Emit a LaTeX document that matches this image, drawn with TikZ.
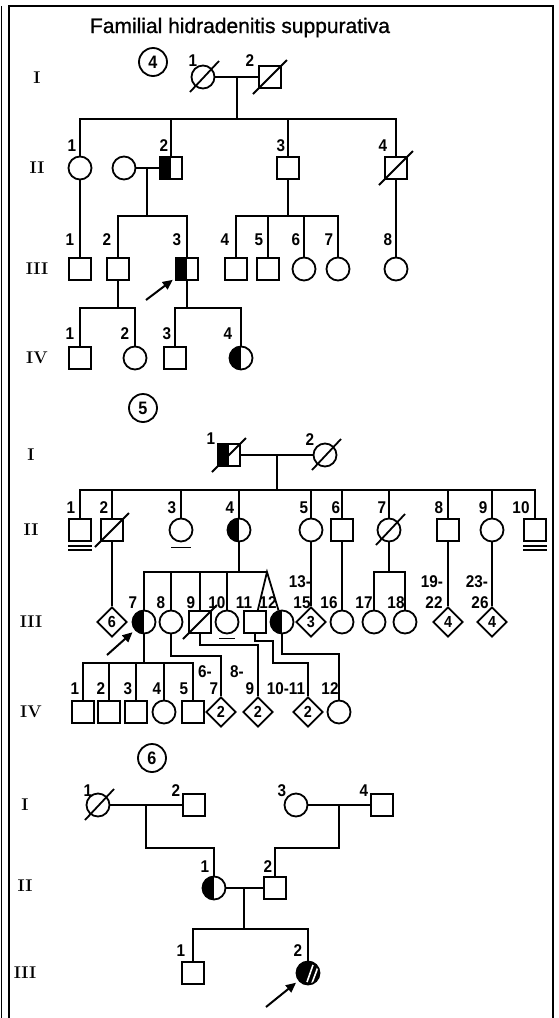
\documentclass[tikz,border=0pt]{standalone}
\usepackage{fontspec}
\setsansfont{Liberation Sans}
\newfontfamily\dinfont[FakeStretch=0.9]{Liberation Sans}
\newfontfamily\titlefont[FakeBold=1]{Liberation Sans}
\usetikzlibrary{shapes.geometric,arrows.meta}

\begin{document}
\begin{tikzpicture}[x=1pt,y=-1pt,line width=1.8pt,
    male/.style={rectangle,draw,minimum size=22pt,inner sep=0pt},
    female/.style={circle,draw,minimum size=23pt,inner sep=0pt},
    unk/.style={diamond,draw,minimum width=30pt,minimum height=30pt,inner sep=0pt,
        font=\dinfont\bfseries\fontsize{16}{16}\selectfont},
    half/.style={path picture={\fill (path picture bounding box.south west) rectangle (path picture bounding box.north);}},
    striped/.style={fill=black,path picture={
        \draw[white,line width=1.6pt] ([shift={(-1,9)}]path picture bounding box.center) -- ([shift={(5,-8)}]path picture bounding box.center);
        \draw[white,line width=1.6pt] ([shift={(4,10)}]path picture bounding box.center) -- ([shift={(10,-6)}]path picture bounding box.center);}},
    num/.style={inner sep=0pt,font=\dinfont\bfseries\fontsize{17}{17}\selectfont},
    gen/.style={inner sep=0pt,font=\rmfamily\bfseries\fontsize{17}{17}\selectfont},
    famno/.style={circle,draw,minimum size=28pt,inner sep=0pt,font=\dinfont\bfseries\fontsize{18}{18}\selectfont},
    pointer/.style={-{Triangle[length=10pt,width=9pt]},line width=2pt,shorten >=3pt}]
\useasboundingbox (0,0) rectangle (558,1018);

% frame
\draw[line width=1.8pt] (9,1018) -- (9,6) -- (553,6) -- (553,1018);
\draw[line width=1.8pt] (1.5,6) -- (1.5,1018);

\node[font=\titlefont\fontsize{21}{21}\selectfont,anchor=base] (title) at (240,33) {Familial hidradenitis suppurativa};

% pedigree 4
\node[famno] (fa) at (153,62) {4};
\foreach \r/\y in {I/78,II/168,III/269,IV/358}
    \node[gen] (ga\r) at (37,\y) {\r};
\node[female] (a11) at (203,77) {};
\node[male] (a12) at (270,77) {};
\node[female] (a21) at (80,168) {};
\node[female] (a2s) at (124,168) {};
\node[male,half] (a22) at (171,168) {};
\node[male] (a23) at (288,168) {};
\node[male] (a24) at (396,168) {};
\node[male] (a31) at (80,269) {};
\node[male] (a32) at (118,269) {};
\node[male,half] (a33) at (187,269) {};
\node[male] (a34) at (236,269) {};
\node[male] (a35) at (268,269) {};
\node[female] (a36) at (304,269) {};
\node[female] (a37) at (338,269) {};
\node[female] (a38) at (396,269) {};
\node[male] (a41) at (80,358) {};
\node[female] (a42) at (135,358) {};
\node[male] (a43) at (175,358) {};
\node[female,half] (a44) at (241,358) {};
\coordinate (a1m) at (237,77);
\coordinate (a1s) at (237,119);
\coordinate (a2m) at (147,168);
\coordinate (a2d) at (147,216);
\coordinate (a3d) at (288,216);
\coordinate (a4d) at (118,308);
\coordinate (a4e) at (187,308);
\draw (a11) -- (a12);
\draw (a1m) -- (a1s);
\draw (a21) |- (a1s) -| (a24);
\draw (a22) -- (a22 |- a1s);
\draw (a23) -- (a23 |- a1s);
\draw (a2s) -- (a22);
\draw (a2m) -- (a2d);
\draw (a32) |- (a2d) -| (a33);
\draw (a21) -- (a31);
\draw (a23) -- (a3d);
\draw (a34) |- (a3d) -| (a37);
\draw (a35) -- (a35 |- a3d);
\draw (a36) -- (a36 |- a3d);
\draw (a24) -- (a38);
\draw (a32) -- (a4d);
\draw (a41) |- (a4d) -| (a42);
\draw (a33) -- (a4e);
\draw (a43) |- (a4e) -| (a44);
\coordinate (pa) at (146,300);
\draw[pointer] (pa) -- (a33);
\foreach \t/\x in {1/193,2/250}
    \node[num] (la1\t) at (\x,61) {\t};
\foreach \t/\x in {1/72,2/164,3/281,4/383}
    \node[num] (la2\t) at (\x,146) {\t};
\foreach \t/\x in {1/70,2/107,3/177,4/225,5/259,6/296,7/329,8/388}
    \node[num] (la3\t) at (\x,240) {\t};
\foreach \t/\x in {1/70,2/125,3/167,4/228}
    \node[num] (la4\t) at (\x,334) {\t};

% pedigree 5
\node[famno] (fb) at (143,408) {5};
\foreach \r/\y in {I/455,II/530,III/622,IV/712}
    \node[gen] (gb\r) at (31,\y) {\r};
\node[male,half] (b11) at (229,455) {};
\node[female] (b12) at (325,455) {};
\node[male] (b21) at (80,530) {};
\node[male] (b22) at (112,530) {};
\node[female] (b23) at (181,530) {};
\node[female,half] (b24) at (239,530) {};
\node[female] (b25) at (311,530) {};
\node[male] (b26) at (342,530) {};
\node[female] (b27) at (389,530) {};
\node[male] (b28) at (448,530) {};
\node[female] (b29) at (492,530) {};
\node[male] (b210) at (535,530) {};
\node[unk] (b36) at (112,622) {6};
\node[female,half] (b37) at (144,622) {};
\node[female] (b38) at (171,622) {};
\node[male] (b39) at (200,622) {};
\node[female] (b310) at (227,622) {};
\node[male] (b311) at (255,622) {};
\node[female,half] (b312) at (282,622) {};
\node[unk] (b313) at (311,622) {3};
\node[female] (b316) at (342,622) {};
\node[female] (b317) at (374,622) {};
\node[female] (b318) at (405,622) {};
\node[unk] (b319) at (448,622) {4};
\node[unk] (b323) at (492,622) {4};
\node[male] (b41) at (83,712) {};
\node[male] (b42) at (109,712) {};
\node[male] (b43) at (136,712) {};
\node[female] (b44) at (164,712) {};
\node[male] (b45) at (193,712) {};
\node[unk] (b46) at (221,712) {2};
\node[unk] (b48) at (258,712) {2};
\node[unk] (b410) at (308,712) {2};
\node[female] (b412) at (339,712) {};
\coordinate (b1m) at (277,455);
\coordinate (b1s) at (277,490);
\coordinate (b3t) at (267,572);
\coordinate (b3u) at (389,572);
\coordinate (b4s) at (144,663);
\coordinate (k1) at (221,656);
\coordinate (k2) at (258,645);
\coordinate (k3) at (273,641);
\coordinate (k4) at (308,663);
\coordinate (k5) at (339,654);
\draw (b11) -- (b12);
\draw (b1m) -- (b1s);
\draw (b21) |- (b1s) -| (b210);
\foreach \n in {b22,b23,b24,b25,b26,b27,b28,b29}
    \draw (\n) -- (\n |- b1s);
\draw (b22) -- (b36);
\draw (b24) -- (b24 |- b3t);
\draw (b37) |- (b3t);
\foreach \n in {b38,b39,b310}
    \draw (\n) -- (\n |- b3t);
\draw (b311) -- (b3t) -- (b312);
\draw (b25) -- (b313);
\draw (b26) -- (b316);
\draw (b27) -- (b3u);
\draw (b317) |- (b3u) -| (b318);
\draw (b28) -- (b319);
\draw (b29) -- (b323);
\draw (b37) -- (b4s);
\draw (b41) |- (b4s) -| (b45);
\foreach \n in {b42,b43,b44}
    \draw (\n) -- (\n |- b4s);
\draw (b38) |- (k1) -- (b46);
\draw (b39) |- (k2) -- (b48);
\draw (b311) |- (k3) |- (k4) -- (b410);
\draw (b312) |- (k5) -- (b412);
% underlines
\draw ([shift={(0,4)}]b21.south west) -- ([shift={(0,4)}]b21.south east);
\draw ([shift={(0,8)}]b21.south west) -- ([shift={(0,8)}]b21.south east);
\draw ([shift={(0,4)}]b210.south west) -- ([shift={(0,4)}]b210.south east);
\draw ([shift={(0,8)}]b210.south west) -- ([shift={(0,8)}]b210.south east);
\draw ([shift={(-10,5)}]b23.south) -- ([shift={(10,5)}]b23.south);
\draw ([shift={(-8,4)}]b310.south) -- ([shift={(8,4)}]b310.south);
\coordinate (pb) at (107,655);
\draw[pointer] (pb) -- (b37);
\foreach \t/\x/\y in {1/211/439,2/310/440}
    \node[num] (lb1\t) at (\x,\y) {\t};
\foreach \t/\x in {1/71,2/104,3/172,4/230,5/304,6/336,7/382,8/439,9/483,10/521}
    \node[num] (lb2\t) at (\x,508) {\t};
\foreach \t/\x in {7/133,8/161,9/191,10/217,11/244,12/268,16/329,17/364,18/396}
    \node[num] (lb3\t) at (\x,603) {\t};
\node[num] (lb313a) at (300,582) {13-};
\node[num] (lb313b) at (302,603) {15};
\node[num] (lb319a) at (432,582) {19-};
\node[num] (lb319b) at (434,603) {22};
\node[num] (lb323a) at (477,582) {23-};
\node[num] (lb323b) at (480,603) {26};
\foreach \t/\x in {1/75,2/101,3/128,4/157,5/184,12/330}
    \node[num] (lb4\t) at (\x,689) {\t};
\node[num] (lb46a) at (205,672) {6-};
\node[num] (lb46b) at (214,689) {7};
\node[num] (lb48a) at (237,672) {8-};
\node[num] (lb48b) at (250,689) {9};
\node[num] (lb410) at (286,689) {10-11};

% pedigree 6
\node[famno] (fc) at (152,758) {6};
\foreach \r/\y in {I/805,II/886,III/973}
    \node[gen] (gc\r) at (25,\y) {\r};
\node[female] (c11) at (98,805) {};
\node[male] (c12) at (194,805) {};
\node[female] (c13) at (296,805) {};
\node[male] (c14) at (382,805) {};
\node[female,half] (c21) at (214,888) {};
\node[male] (c22) at (275,888) {};
\node[male] (c31) at (193,973) {};
\node[female,striped] (c32) at (308,973) {};
\coordinate (c1m) at (146,805);
\coordinate (k6) at (214,848);
\coordinate (c2m) at (339,805);
\coordinate (k7) at (275,848);
\coordinate (c3m) at (244,888);
\coordinate (c3s) at (244,929);
\draw (c11) -- (c12);
\draw (c13) -- (c14);
\draw (c1m) |- (k6) -- (c21);
\draw (c2m) |- (k7) -- (c22);
\draw (c21) -- (c22);
\draw (c3m) -- (c3s);
\draw (c31) |- (c3s) -| (c32);
\coordinate (pc) at (266,1007);
\draw[pointer] (pc) -- (c32);
\foreach \t/\x in {1/88,2/176,3/282,4/364}
    \node[num] (lc1\t) at (\x,791) {\t};
\foreach \t/\x in {1/205,2/268}
    \node[num] (lc2\t) at (\x,867) {\t};
\foreach \t/\x in {1/181,2/298}
    \node[num] (lc3\t) at (\x,951) {\t};

% deceased
\foreach \n in {a11,b12,b27,c11}
    \draw ([shift={(-13,15)}]\n.center) -- ([shift={(16,-16)}]\n.center);
\foreach \n in {a12,a24,b11,b22,b39}
    \draw ([shift={(-17,17)}]\n.center) -- ([shift={(17,-17)}]\n.center);
\end{tikzpicture}
\end{document}
